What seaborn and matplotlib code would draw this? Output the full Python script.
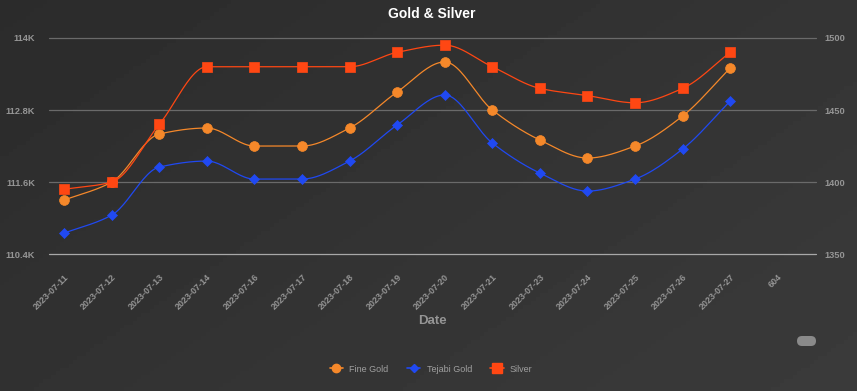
import numpy as np
import matplotlib
matplotlib.use("Agg")
import matplotlib.pyplot as plt
from matplotlib.lines import Line2D
from matplotlib.patches import FancyBboxPatch
from matplotlib.transforms import IdentityTransform
import seaborn as sns

dates = ["2023-07-11", "2023-07-12", "2023-07-13", "2023-07-14", "2023-07-16",
         "2023-07-17", "2023-07-18", "2023-07-19", "2023-07-20", "2023-07-21",
         "2023-07-23", "2023-07-24", "2023-07-25", "2023-07-26", "2023-07-27", "604"]
fine_gold = [111300, 111600, 112400, 112500, 112200, 112200, 112500, 113100,
             113600, 112800, 112300, 112000, 112200, 112700, 113500]
tejabi_gold = [110750, 111050, 111850, 111950, 111650, 111650, 111950, 112550,
               113050, 112250, 111750, 111450, 111650, 112150, 112950]
silver = [1395, 1400, 1440, 1480, 1480, 1480, 1480, 1490, 1495, 1480,
          1465, 1460, 1455, 1465, 1490]

left_ticks = [110400, 111600, 112800, 114000]
left_labels = ["110.4K", "111.6K", "112.8K", "114K"]
right_ticks = [1350, 1400, 1450, 1500]

BG = "#333333"
TXT = "#959595"
C_FINE = "#f5882a"
C_TEJ = "#2049f2"
C_SIL = "#ff4713"


def smooth(y, n=24):
    # monotone cubic curve through the points (flat between equal values)
    y = np.asarray(y, dtype=float)
    x = np.arange(len(y), dtype=float)
    d = np.diff(y)
    m = np.zeros_like(y)
    m[0], m[-1] = d[0], d[-1]
    for k in range(1, len(y) - 1):
        if d[k - 1] * d[k] > 0:
            m[k] = 2.0 / (1.0 / d[k - 1] + 1.0 / d[k])
    xs, ys = [], []
    for k in range(len(y) - 1):
        t = np.linspace(0, 1, n, endpoint=False)
        h00 = 2 * t**3 - 3 * t**2 + 1
        h10 = t**3 - 2 * t**2 + t
        h01 = -2 * t**3 + 3 * t**2
        h11 = t**3 - t**2
        xs.append(x[k] + t)
        ys.append(h00 * y[k] + h10 * m[k] + h01 * y[k + 1] + h11 * m[k + 1])
    xs.append([x[-1]])
    ys.append([y[-1]])
    return np.concatenate(xs), np.concatenate(ys)


sns.set_theme(style="dark")
plt.rcParams["font.family"] = ["Liberation Sans", "DejaVu Sans"]

fig = plt.figure(figsize=(8.57, 3.91), dpi=100)
fig.patch.set_facecolor(BG)

# soft diagonal background gradient
bg = fig.add_axes([0, 0, 1, 1], zorder=-10)
gx, gy = np.meshgrid(np.linspace(0, 1, 200), np.linspace(0, 1, 100))
bg.imshow(0.17 + 0.06 * (0.6 * gx + 0.4 * gy), cmap="gray", vmin=0, vmax=1,
          aspect="auto", extent=[0, 1, 0, 1], origin="upper")
bg.set_axis_off()

ax = fig.add_axes([0.057, 0.35, 0.895, 0.553])
ax.patch.set_alpha(0)
ax2 = ax.twinx()
ax2.patch.set_alpha(0)

idx = np.arange(len(fine_gold))
for axis, vals, col, mk, ms in [
    (ax, fine_gold, C_FINE, "o", 50),
    (ax, tejabi_gold, C_TEJ, "D", 26),
    (ax2, silver, C_SIL, "s", 60),
]:
    xs, ys = smooth(vals)
    sns.lineplot(x=xs, y=ys, ax=axis, color=col, linewidth=0.9, sort=False)
    sns.scatterplot(x=idx, y=vals, ax=axis, color=col, marker=mk, s=ms,
                    edgecolor=col, linewidth=0.5, zorder=5)

ax.set_xlim(-0.32, 15.8)
ax.set_ylim(110400, 114000)
ax2.set_ylim(1350, 1500)

ax.set_yticks(left_ticks)
ax.set_yticklabels(left_labels)
ax2.set_yticks(right_ticks)
ax2.set_yticklabels([str(v) for v in right_ticks])
ax.set_xticks(np.arange(len(dates)))
ax.set_xticklabels(dates, rotation=45, ha="right", va="top", rotation_mode="anchor")

for a in (ax, ax2):
    for s in a.spines.values():
        s.set_visible(False)
    a.tick_params(length=0, colors=TXT, labelsize=6.7)
    a.grid(False)
for lbl in ax.get_yticklabels() + ax2.get_yticklabels() + ax.get_xticklabels():
    lbl.set_fontweight("bold")
ax.tick_params(axis="y", pad=10)
ax2.tick_params(axis="y", pad=6)
ax.tick_params(axis="x", pad=13, labelsize=6.5)

for v in left_ticks:
    ax.axhline(v, color="#6a6a6a" if v > 110400 else "#a8a8a8", linewidth=0.9,
               zorder=0, clip_on=False)

ax.set_xlabel("Date", color=TXT, fontsize=9.5, fontweight="bold", labelpad=3)
ax.set_ylabel("")
ax2.set_ylabel("")

fig.text(0.504, 0.965, "Gold & Silver", color="white", fontsize=10,
         fontweight="bold", ha="center", va="center")

handles = [
    Line2D([], [], color=C_FINE, marker="o", markersize=6, linewidth=1.2),
    Line2D([], [], color=C_TEJ, marker="D", markersize=4.5, linewidth=1.2),
    Line2D([], [], color=C_SIL, marker="s", markersize=6.5, linewidth=1.2),
]
leg = fig.legend(handles, ["Fine Gold", "Tejabi Gold", "Silver"], loc="center",
                 bbox_to_anchor=(0.503, 0.056), ncol=3, frameon=False, fontsize=6.5,
                 handlelength=1.5, columnspacing=2.0, handletextpad=0.7)
for t in leg.get_texts():
    t.set_color("#a0a0a0")

fig.patches.append(FancyBboxPatch((797, 45), 19, 10,
                                  boxstyle="round,pad=0,rounding_size=5",
                                  transform=IdentityTransform(), facecolor="#8a8a8a",
                                  edgecolor="none"))

fig.savefig("out.png", dpi=100)
